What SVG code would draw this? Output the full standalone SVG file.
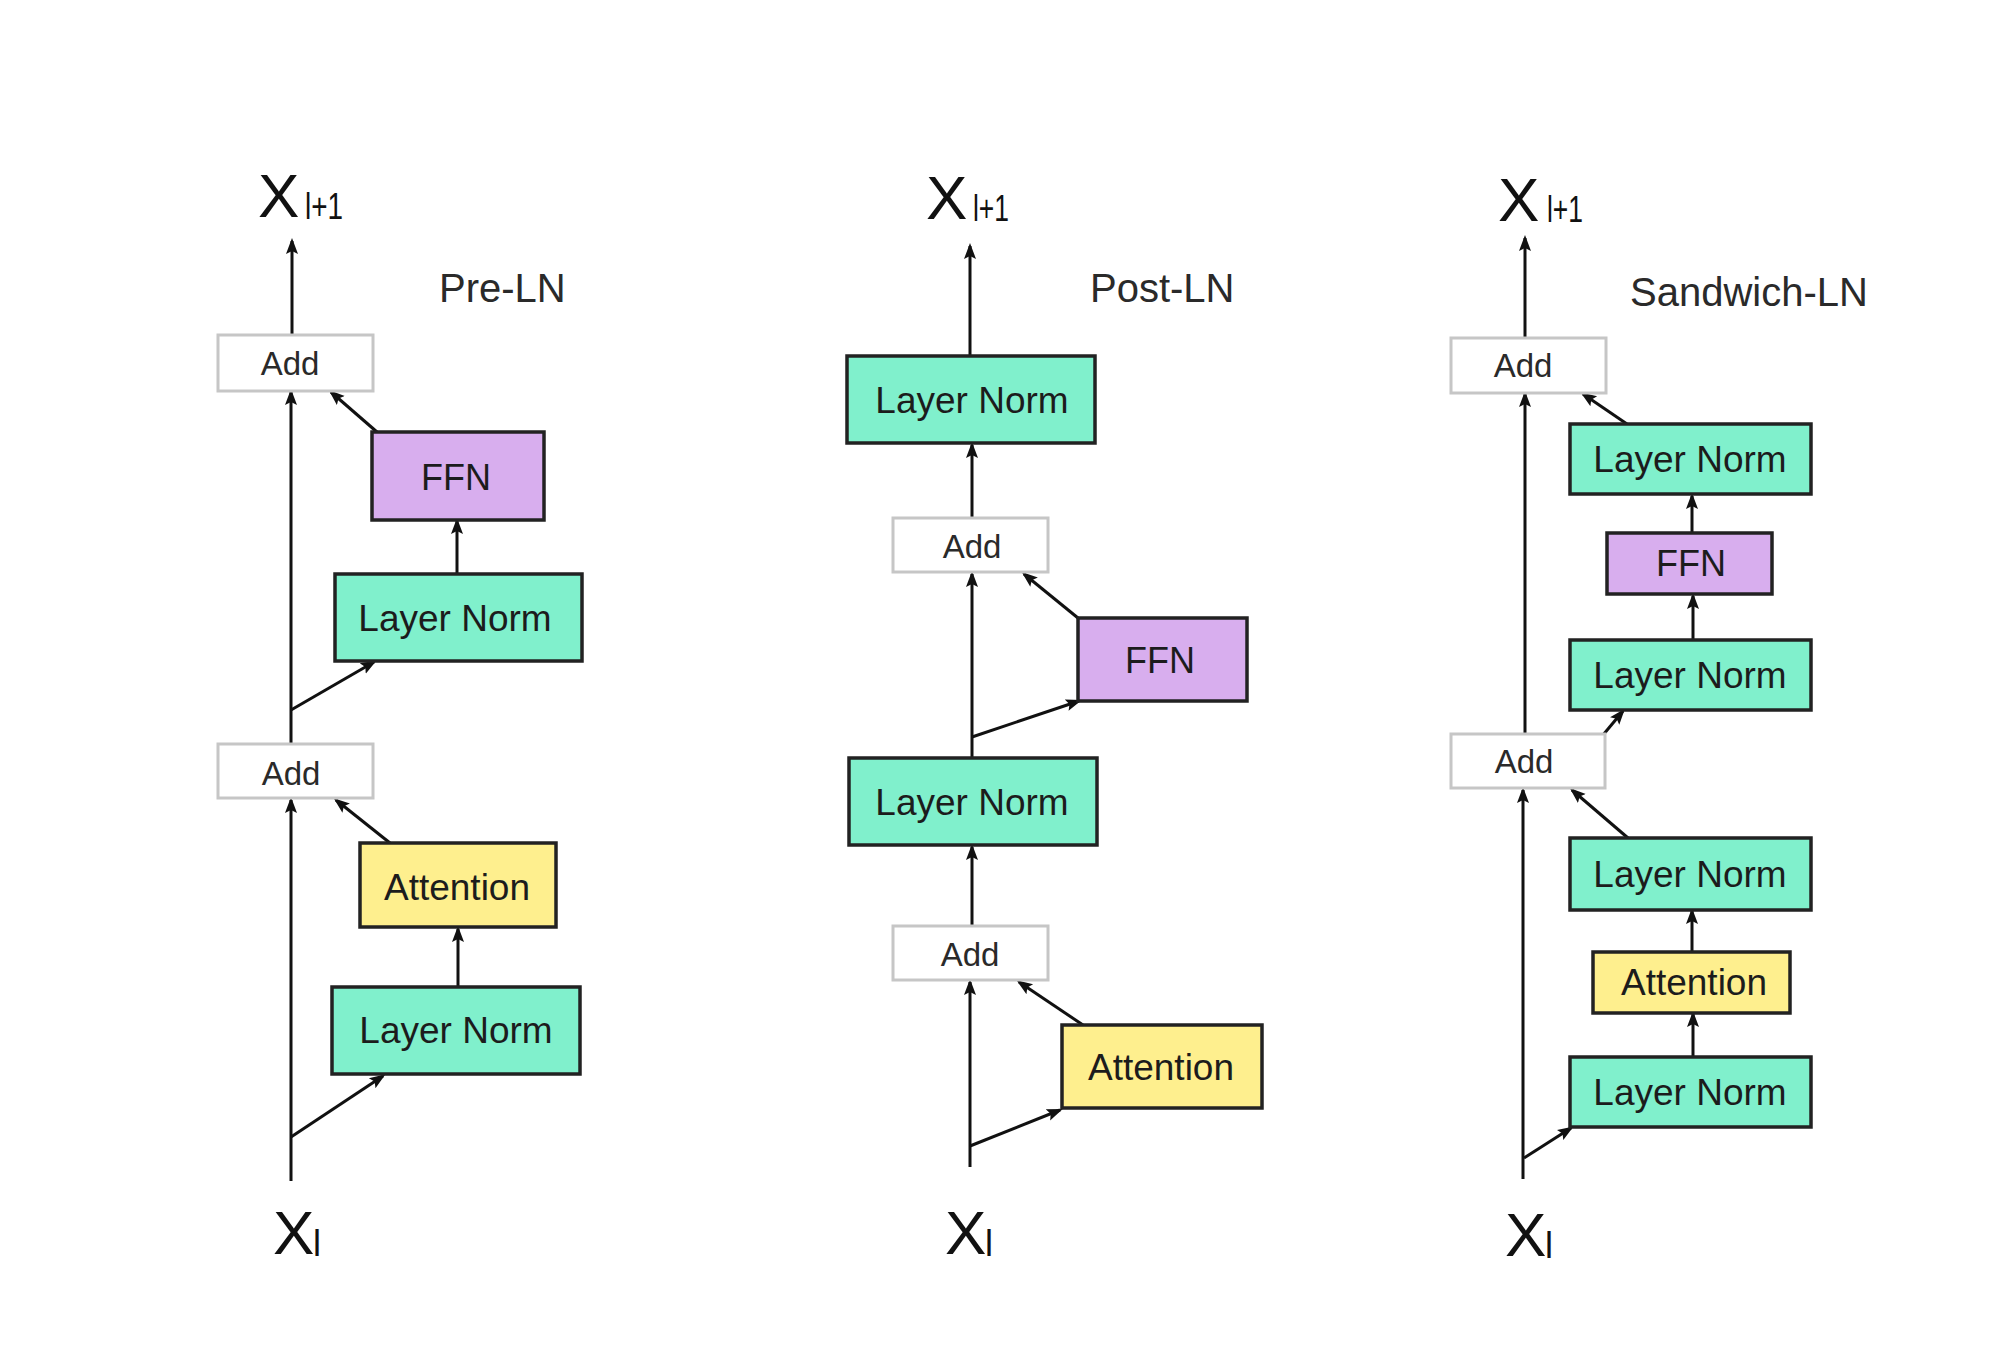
<svg xmlns="http://www.w3.org/2000/svg" width="2000" height="1366" viewBox="0 0 2000 1366">
<defs>
<marker id="ah" markerUnits="userSpaceOnUse" markerWidth="16" markerHeight="14" viewBox="0 0 16 14" refX="13" refY="7" orient="auto">
<path d="M0,1 L16,7 L0,13 L3,7 z" fill="#111"/>
</marker>
<style>
.ln{fill:#80F0CC;stroke:#222;stroke-width:3.5}
.ffn{fill:#D8AEEE;stroke:#222;stroke-width:3.5}
.att{fill:#FEEF8E;stroke:#222;stroke-width:3.5}
.add{fill:#fff;stroke:#c6c6c6;stroke-width:3}
.t{font-family:"Liberation Sans",Arial,sans-serif;font-size:37px;fill:#1c1c1c;text-anchor:middle}
.ta{font-family:"Liberation Sans",Arial,sans-serif;font-size:33px;fill:#2a2a2a;text-anchor:middle}
.h{font-family:"Liberation Sans",Arial,sans-serif;font-size:40px;fill:#2a2a2a}
.x{font-family:"Liberation Sans",Arial,sans-serif;font-size:62px;fill:#111}
.s{font-family:"Liberation Sans",Arial,sans-serif;font-size:36px;fill:#111}
.c{fill:none;stroke:#111;stroke-width:3;marker-end:url(#ah)}
</style>
</defs>
<rect width="2000" height="1366" fill="#fff"/>

<g id="connectors">
<!-- Pre-LN -->
<path class="c" d="M291,1181 V800"/>
<path class="c" d="M291,1137 L383,1076"/>
<path class="c" d="M458,987 V929"/>
<path class="c" d="M390,843 L336,800"/>
<path class="c" d="M291,744 V392"/>
<path class="c" d="M291,710 L374,662"/>
<path class="c" d="M457,574 V521"/>
<path class="c" d="M377,432 L331,392"/>
<path class="c" d="M292,335 V241"/>
<!-- Post-LN -->
<path class="c" d="M970,1167 V982"/>
<path class="c" d="M970,1146 L1060,1110"/>
<path class="c" d="M1083,1025 L1019,982"/>
<path class="c" d="M972,926 V847"/>
<path class="c" d="M972,758 V574"/>
<path class="c" d="M972,737 L1079,701"/>
<path class="c" d="M1078,618 L1024,574"/>
<path class="c" d="M972,518 V445"/>
<path class="c" d="M970,356 V246"/>
<!-- Sandwich-LN -->
<path class="c" d="M1523,1179 V790"/>
<path class="c" d="M1524,1158 L1571,1128"/>
<path class="c" d="M1693,1057 V1014"/>
<path class="c" d="M1692,952 V911"/>
<path class="c" d="M1628,838 L1572,790"/>
<path class="c" d="M1525,734 V394"/>
<path class="c" d="M1603,735 L1623,711"/>
<path class="c" d="M1693,640 V596"/>
<path class="c" d="M1692,533 V496"/>
<path class="c" d="M1627,424 L1583,394"/>
<path class="c" d="M1525,338 V238"/>
</g>

<!-- Pre-LN column -->
<g id="pre-out"><text class="x" x="258" y="217">X</text><text class="s" x="305" y="219" textLength="38" lengthAdjust="spacingAndGlyphs">l+1</text></g>
<g id="pre-title"><text class="h" x="439" y="302">Pre-LN</text></g>
<g id="pre-add1"><rect class="add" x="218" y="335" width="155" height="56"/><text class="ta" x="290" y="375">Add</text></g>
<g id="pre-ffn"><rect class="ffn" x="372" y="432" width="172" height="88"/><text class="t" x="456" y="490" style="font-size:36px">FFN</text></g>
<g id="pre-ln1"><rect class="ln" x="335" y="574" width="247" height="87"/><text class="t" x="455" y="631">Layer Norm</text></g>
<g id="pre-add2"><rect class="add" x="218" y="744" width="155" height="54"/><text class="ta" x="291" y="785">Add</text></g>
<g id="pre-att"><rect class="att" x="360" y="843" width="196" height="84"/><text class="t" x="457" y="900">Attention</text></g>
<g id="pre-ln2"><rect class="ln" x="332" y="987" width="248" height="87"/><text class="t" x="456" y="1043">Layer Norm</text></g>
<g id="pre-in"><text class="x" x="273" y="1254">X</text><text class="s" x="313" y="1256">l</text></g>

<!-- Post-LN column -->
<g id="post-out"><text class="x" x="926" y="219">X</text><text class="s" x="973" y="221" textLength="36" lengthAdjust="spacingAndGlyphs">l+1</text></g>
<g id="post-title"><text class="h" x="1090" y="302">Post-LN</text></g>
<g id="post-ln-top"><rect class="ln" x="847" y="356" width="248" height="87"/><text class="t" x="972" y="413">Layer Norm</text></g>
<g id="post-add1"><rect class="add" x="893" y="518" width="155" height="54"/><text class="ta" x="972" y="558">Add</text></g>
<g id="post-ffn"><rect class="ffn" x="1078" y="618" width="169" height="83"/><text class="t" x="1160" y="673" style="font-size:36px">FFN</text></g>
<g id="post-ln-mid"><rect class="ln" x="849" y="758" width="248" height="87"/><text class="t" x="972" y="815">Layer Norm</text></g>
<g id="post-add2"><rect class="add" x="893" y="926" width="155" height="54"/><text class="ta" x="970" y="966">Add</text></g>
<g id="post-att"><rect class="att" x="1062" y="1025" width="200" height="83"/><text class="t" x="1161" y="1080">Attention</text></g>
<g id="post-in"><text class="x" x="945" y="1254">X</text><text class="s" x="985" y="1256">l</text></g>

<!-- Sandwich-LN column -->
<g id="sw-out"><text class="x" x="1498" y="221">X</text><text class="s" x="1547" y="222" textLength="36" lengthAdjust="spacingAndGlyphs">l+1</text></g>
<g id="sw-title"><text class="h" x="1630" y="306">Sandwich-LN</text></g>
<g id="sw-add1"><rect class="add" x="1451" y="338" width="155" height="55"/><text class="ta" x="1523" y="377">Add</text></g>
<g id="sw-ln-a"><rect class="ln" x="1570" y="424" width="241" height="70"/><text class="t" x="1690" y="472">Layer Norm</text></g>
<g id="sw-ffn"><rect class="ffn" x="1607" y="533" width="165" height="61"/><text class="t" x="1691" y="576" style="font-size:36px">FFN</text></g>
<g id="sw-ln-b"><rect class="ln" x="1570" y="640" width="241" height="70"/><text class="t" x="1690" y="688">Layer Norm</text></g>
<g id="sw-add2"><rect class="add" x="1451" y="734" width="154" height="54"/><text class="ta" x="1524" y="773">Add</text></g>
<g id="sw-ln-c"><rect class="ln" x="1570" y="838" width="241" height="72"/><text class="t" x="1690" y="887">Layer Norm</text></g>
<g id="sw-att"><rect class="att" x="1593" y="952" width="197" height="61"/><text class="t" x="1694" y="995">Attention</text></g>
<g id="sw-ln-d"><rect class="ln" x="1570" y="1057" width="241" height="70"/><text class="t" x="1690" y="1105">Layer Norm</text></g>
<g id="sw-in"><text class="x" x="1505" y="1256">X</text><text class="s" x="1545" y="1258">l</text></g>
</svg>
